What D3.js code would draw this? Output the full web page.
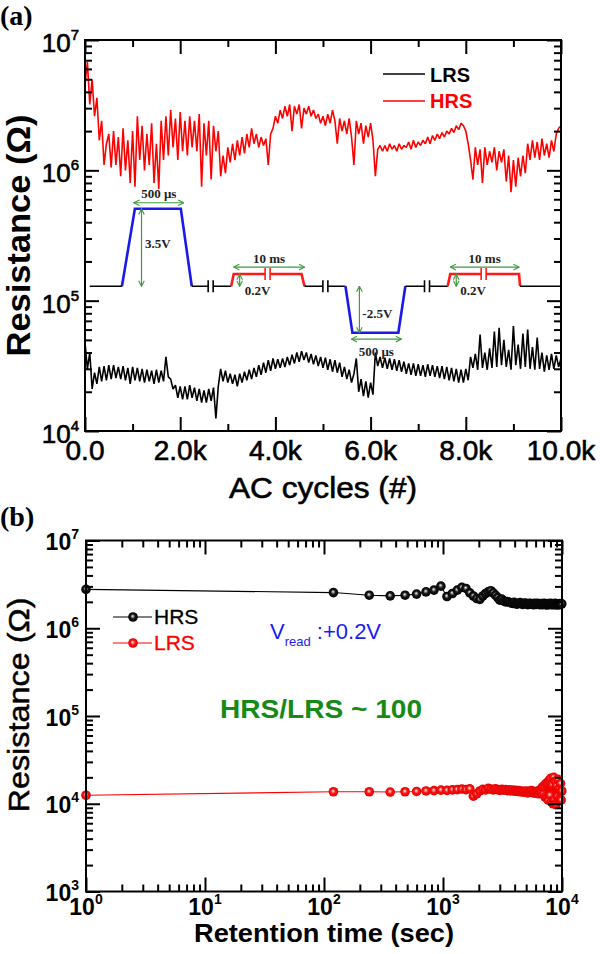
<!DOCTYPE html>
<html><head><meta charset="utf-8">
<script src="https://cdn.jsdelivr.net/npm/d3@7"></script>
<style>body{margin:0;background:#fff} svg{display:block}</style>
</head><body>
<svg id="c" width="600" height="954"></svg>
<script>
// ---------------- DATA ----------------
// Panel (a): AC cycling, one reading every 50 cycles (0 .. 10000)
const acCycleStep = 50;
// HRS, in MΩ
const hrsA = [
4.5,6.8,3.2,5.0,2.6,3.6,1.7,2.4,1.1,1.6,
1.9,1.05,2.0,1.1,1.8,0.9,2.1,1.0,1.7,0.8,
2.0,0.75,2.6,1.2,2.2,1.0,1.9,1.1,2.3,0.8,
1.6,0.72,2.4,1.2,2.6,1.3,2.9,1.5,2.5,1.2,
2.8,1.4,2.4,1.3,2.6,1.5,2.4,1.4,2.7,0.75,
2.3,1.3,2.4,0.85,2.2,1.4,2.0,0.9,1.3,0.95,
1.5,1.15,1.6,1.2,1.7,1.3,1.8,1.35,1.9,1.5,
2.1,1.6,1.9,1.5,1.8,1.55,1.75,1.1,1.9,2.1,
2.6,2.3,2.9,2.5,3.1,2.6,3.2,2.0,3.1,2.7,
3.2,2.1,3.0,2.7,3.1,2.6,2.9,2.5,2.7,2.3,
2.6,2.2,2.7,2.3,2.9,2.4,1.6,2.5,2.0,2.4,
1.9,2.5,1.8,1.1,2.4,1.9,2.3,1.6,2.2,1.8,
2.3,1.7,0.9,1.45,1.55,1.4,1.55,1.4,1.6,1.45,
1.55,1.4,1.6,1.45,1.55,1.5,1.65,1.45,1.7,1.5,
1.65,1.55,1.7,1.6,1.8,1.6,1.85,1.7,1.9,1.75,
1.95,1.8,2.0,1.9,2.1,1.95,2.2,2.05,2.3,2.2,
2.0,1.6,1.2,0.85,1.5,1.1,1.45,0.8,1.5,1.1,
1.4,1.15,1.5,1.0,1.4,1.15,1.45,0.82,1.3,0.68,
1.2,0.75,1.25,0.9,1.3,0.95,1.6,1.2,1.7,1.25,
1.65,1.2,1.75,1.3,1.6,1.25,1.7,1.4,1.9,2.1,
2.2];
// LRS, in 10^4 Ω
const lrsA = [
4.8,3.0,4.0,2.1,2.8,2.3,3.1,2.4,3.15,2.45,
3.2,2.5,3.2,2.55,3.1,2.5,3.15,2.45,3.05,2.3,
3.1,2.45,3.05,2.4,3.0,2.35,2.95,2.4,2.9,2.3,
2.95,2.35,2.9,2.4,3.7,2.6,2.5,2.1,2.25,1.8,
2.2,1.75,2.2,1.75,2.25,1.8,2.15,1.7,2.1,1.65,
2.05,1.65,2.1,1.7,2.15,1.25,2.2,3.0,2.4,2.9,
2.35,2.75,2.3,2.7,2.2,2.75,2.35,2.85,2.45,2.95,
2.5,3.05,2.6,3.2,2.7,3.35,2.8,3.5,2.9,3.6,
3.0,3.55,3.05,3.6,3.1,3.7,3.2,3.85,3.3,4.0,
3.4,4.1,3.5,4.0,3.35,3.9,3.25,3.8,3.15,3.7,
3.05,3.65,2.95,3.55,2.85,3.5,2.8,3.35,2.6,3.1,
2.5,2.95,2.35,2.75,3.6,2.0,2.5,1.85,2.4,1.8,
2.35,1.9,4.0,3.15,3.7,3.05,3.65,3.0,3.6,2.95,
3.55,2.9,3.5,2.85,3.4,2.75,3.3,2.7,3.3,2.65,
3.25,2.65,3.2,2.6,3.25,2.65,3.2,2.6,3.15,2.55,
3.15,2.5,3.1,2.45,3.05,2.4,3.0,2.35,2.95,2.35,
3.0,2.45,3.7,3.05,3.9,2.95,5.5,3.05,4.0,2.95,
4.3,3.05,5.8,3.1,6.2,3.2,5.0,3.1,4.2,2.95,
6.4,3.2,4.6,3.0,5.6,3.1,6.0,3.0,4.4,2.95,
5.2,3.0,4.0,2.85,3.8,2.95,3.9,3.0,3.8,3.1,
3.6];
const xTickValuesA = [0,2000,4000,6000,8000,10000];
const xTickLabelsA = ["0.0","2.0k","4.0k","6.0k","8.0k","10.0k"];
const yExpA = [4,5,6,7];

// pulse-scheme inset (drawn in panel (a) data units: cycles, Ω)
const pB = 1.29e5, pT = 5.07e5, pR = 1.6e5, pN = 5.67e4;
const pulseSegments = [
 {c:"black", w:1.6, pts:[[100,pB],[776,pB]]},
 {c:"blue",  w:2.6, pts:[[776,pB],[1048,pT],[2013,pT],[2243,pB]]},
 {c:"black", w:1.6, pts:[[2243,pB],[3071,pB]]},
 {c:"red",   w:2.6, pts:[[3071,pB],[3124,pR],[4549,pR],[4612,pB]]},
 {c:"black", w:1.6, pts:[[4612,pB],[5472,pB]]},
 {c:"blue",  w:2.6, pts:[[5472,pB],[5618,pN],[6583,pN],[6730,pB]]},
 {c:"black", w:1.6, pts:[[6730,pB],[7620,pB]]},
 {c:"red",   w:2.6, pts:[[7620,pB],[7673,pR],[9119,pR],[9140,pB]]},
 {c:"black", w:1.6, pts:[[9140,pB],[9990,pB]]}
];
const pulseBreaks = [[2640,pB,"black"],[3836,pR,"red"],[5050,pB,"black"],[7185,pB,"black"],[8375,pR,"red"]];
const pulseArrows = [
 [[1027,5.64e5],[2075,5.64e5]],
 [[1187,5.07e5],[1187,1.29e5]],
 [[3124,1.81e5],[4612,1.81e5]],
 [[3249,1.6e5],[3249,1.29e5]],
 [[5765,1.29e5],[5765,5.67e4]],
 [[5597,5.07e4],[6646,5.07e4]],
 [[7673,1.81e5],[9119,1.81e5]],
 [[7799,1.6e5],[7799,1.29e5]]
];
const pulseTexts = [
 {t:"500 μs", x:1550, y:5.64e5, dy:-5, a:"middle"},
 {t:"3.5V",   x:1258, y:2.77e5, dy:5,  a:"start"},
 {t:"10 ms",  x:3868, y:1.81e5, dy:-4, a:"middle"},
 {t:"0.2V",   x:3354, y:1.29e5, dy:9,  a:"start"},
 {t:"-2.5V",  x:5827, y:8.07e4, dy:5,  a:"start"},
 {t:"500 μs", x:6120, y:5.07e4, dy:17, a:"middle"},
 {t:"10 ms",  x:8396, y:1.81e5, dy:-4, a:"middle"},
 {t:"0.2V",   x:7881, y:1.29e5, dy:9,  a:"start"}
];

// Panel (b): retention
const retentionTime = [1,120,240,360,480,600,720,840,960,1080,1200,1320,1440,1560,1680,1800,1920,2040,2160,2280,2400,2520,2640,2760,2880,3000,3120,3240,3360,3480,3600,3720,3840,3960,4080,4200,4320,4440,4560,4680,4800,4920,5040,5160,5280,5400,5520,5640,5760,5880,6000,6120,6240,6360,6480,6600,6720,6840,6960,7080,7200,7320,7440,7560,7680,7800,7920,8040,8160,8280,8400,8520,8640,8760,8880,9000,9120,9240,9360,9480,9600,9720,9840,9960];
// HRS in MΩ
const hrsB = [2.77,
2.55,2.38,2.34,2.38,2.45,2.60,2.72,3.02,2.30,2.49,
2.72,2.92,2.84,2.53,2.33,2.18,2.13,2.33,2.49,2.60,
2.68,2.53,2.38,2.24,2.09,2.15,2.05,2.0,2.02,1.98,
1.95,1.92,1.97,1.90,1.88,1.93,1.96,1.90,1.87,1.92,
1.94,1.89,1.86,1.91,1.93,1.88,1.90,1.85,1.92,1.89,
1.87,1.93,1.90,1.86,1.88,1.91,1.85,1.89,1.92,1.87,
1.90,1.84,1.88,1.91,1.86,1.89,1.93,1.87,1.85,1.90,
1.88,1.86,1.92,1.87,1.89,1.84,1.90,1.88,1.86,1.91,
1.87,1.89,1.90];
// LRS in 10^4 Ω
const lrsB = [1.25,
1.37,1.37,1.36,1.37,1.38,1.40,1.41,1.43,1.42,1.44,
1.45,1.47,1.45,1.48,1.22,1.30,1.40,1.46,1.44,1.50,
1.47,1.44,1.48,1.45,1.42,1.46,1.43,1.45,1.41,1.44,
1.40,1.43,1.39,1.42,1.38,1.41,1.37,1.40,1.36,1.39,
1.35,1.40,1.33,1.38,1.36,1.41,1.34,1.39,1.32,1.37,
1.35,1.40,1.30,1.38,1.45,1.33,1.55,1.28,1.60,1.20,
1.70,1.15,1.75,1.10,1.85,1.25,1.95,1.05,1.65,1.00,
2.00,1.12,1.80,0.98,1.60,1.20,1.90,1.08,1.50,1.15,
1.70,1.10,1.40];
const xExpB = [0,1,2,3,4];
const yExpB = [3,4,5,6,7];

// ---------------- DRAW ----------------
const SANS = "'Liberation Sans', Arial, sans-serif";
const SERIF = "'Liberation Serif', 'Times New Roman', serif";
const GREEN = "#3d9a3d";
const svg = d3.select("#c");
const defs = svg.append("defs");
defs.append("marker").attr("id","ga").attr("viewBox","0 0 10 10").attr("refX",9).attr("refY",5)
  .attr("markerWidth",7).attr("markerHeight",7).attr("markerUnits","userSpaceOnUse")
  .attr("orient","auto-start-reverse")
  .append("path").attr("d","M1,1 L9,5 L1,9").attr("fill","none").attr("stroke",GREEN).attr("stroke-width",1.6);
function grad(id, stops){
  const g = defs.append("radialGradient").attr("id",id).attr("cx","50%").attr("cy","50%").attr("r","50%").attr("fx","45%").attr("fy","40%");
  stops.forEach(s=>g.append("stop").attr("offset",s[0]).attr("stop-color",s[1]));
}
grad("gk",[["0%","#f4f4f4"],["20%","#9a9a9a"],["48%","#1a1a1a"],["100%","#000"]]);
grad("gr",[["0%","#fff0f0"],["20%","#ff9a9a"],["48%","#ff1414"],["100%","#e00000"]]);
defs.append("clipPath").attr("id","clipA").append("rect").attr("x",85).attr("y",40).attr("width",476).attr("height",391);

// ----- panel (a)
const xA = d3.scaleLinear().domain([0,10000]).range([85,561]);
const yA = d3.scaleLog().domain([1e4,1e7]).range([431,40]);
const gA = svg.append("g");

const lineA = d3.line().x((d,i)=>xA(i*acCycleStep)).y(d=>yA(d));
gA.append("path").attr("clip-path","url(#clipA)").attr("d",lineA(lrsA.map(v=>v*1e4)))
  .attr("fill","none").attr("stroke","#000").attr("stroke-width",1.6).attr("stroke-linejoin","bevel");
gA.append("path").attr("clip-path","url(#clipA)").attr("d",lineA(hrsA.map(v=>v*1e6)))
  .attr("fill","none").attr("stroke","#ff0000").attr("stroke-width",1.6).attr("stroke-linejoin","bevel");

// pulse inset
const pl = d3.line().x(d=>xA(d[0])).y(d=>yA(d[1]));
const colMap = {black:"#000", blue:"#1a1ae6", red:"#ff1a1a"};
pulseSegments.forEach(s=>{
  gA.append("path").attr("d",pl(s.pts)).attr("fill","none").attr("stroke",colMap[s.c]).attr("stroke-width",s.w).attr("stroke-linejoin","miter");
});
pulseBreaks.forEach(b=>{
  const px = xA(b[0]), py = yA(b[1]);
  gA.append("rect").attr("x",px-2.5).attr("y",py-2).attr("width",5).attr("height",4).attr("fill","#fff");
  [-2.5,2.5].forEach(o=>gA.append("line").attr("x1",px+o).attr("x2",px+o).attr("y1",py-6).attr("y2",py+6)
     .attr("stroke",colMap[b[2]]).attr("stroke-width",1.6));
});
pulseArrows.forEach(a=>{
  gA.append("line").attr("x1",xA(a[0][0])).attr("y1",yA(a[0][1])).attr("x2",xA(a[1][0])).attr("y2",yA(a[1][1]))
    .attr("stroke",GREEN).attr("stroke-width",1.2).attr("marker-start","url(#ga)").attr("marker-end","url(#ga)");
});
pulseTexts.forEach(t=>{
  gA.append("text").attr("x",xA(t.x)).attr("y",yA(t.y)).attr("dy",t.dy).attr("text-anchor",t.a)
    .attr("font-family",SERIF).attr("font-weight","bold").attr("font-size",13).attr("fill","#222").text(t.t);
});

// frame & ticks
function axesTicks(g, xs, ys, xMajor, xMinor, yMajor, yMinor){
  const [x0,x1] = xs.range(), [y0,y1] = ys.range(); // y0 bottom, y1 top
  const mk = (axisFn, scale, vals, len, tr) => g.append("g").attr("transform",tr)
     .call(axisFn(scale).tickValues(vals).tickSize(len).tickFormat(""))
     .call(s=>s.select(".domain").remove())
     .call(s=>s.selectAll("line").attr("stroke","#000").attr("stroke-width",2));
  mk(d3.axisBottom, xs, xMajor, -14, `translate(0,${y0})`);
  mk(d3.axisBottom, xs, xMinor, -7, `translate(0,${y0})`);
  mk(d3.axisTop, xs, xMajor, -14, `translate(0,${y1})`);
  mk(d3.axisTop, xs, xMinor, -7, `translate(0,${y1})`);
  mk(d3.axisLeft, ys, yMajor, -14, `translate(${x0},0)`);
  mk(d3.axisLeft, ys, yMinor, -7, `translate(${x0},0)`);
  mk(d3.axisRight, ys, yMajor, -14, `translate(${x1},0)`);
  mk(d3.axisRight, ys, yMinor, -7, `translate(${x1},0)`);
  g.append("rect").attr("x",x0).attr("y",y1).attr("width",x1-x0).attr("height",y0-y1)
    .attr("fill","none").attr("stroke","#000").attr("stroke-width",2);
}
const isDecade = v => Math.abs(Math.log10(v) - Math.round(Math.log10(v))) < 1e-9;
const yAll = yA.ticks();
axesTicks(gA, xA, yA, xTickValuesA, [1000,3000,5000,7000,9000],
  yAll.filter(isDecade), yAll.filter(v=>!isDecade(v)));

// heavier "regular" text helper
const heavy = (sel, col, w) => sel.attr("stroke",col||"#000").attr("stroke-width",w||0.6);

// tick labels (a)
xTickValuesA.forEach((v,i)=>{
  heavy(gA.append("text").attr("x",xA(v)).attr("y",460).attr("text-anchor","middle")
    .attr("font-family",SANS).attr("font-size",28).text(xTickLabelsA[i]));
});
yExpA.forEach(e=>{
  const t = heavy(gA.append("text").attr("x",79).attr("y",yA(Math.pow(10,e))+12).attr("text-anchor","end")
    .attr("font-family",SANS).attr("font-size",26));
  t.append("tspan").text("10");
  t.append("tspan").attr("font-size",15).attr("dy",-12).text(e);
});
heavy(gA.append("text").attr("x",323).attr("y",498).attr("text-anchor","middle").attr("font-family",SANS)
  .attr("font-size",30).attr("textLength",188).attr("lengthAdjust","spacingAndGlyphs").text("AC cycles (#)"));
gA.append("text").attr("transform","translate(30,235.5) rotate(-90)").attr("text-anchor","middle")
  .attr("font-family",SANS).attr("font-weight","bold").attr("font-size",34)
  .attr("textLength",242).attr("lengthAdjust","spacingAndGlyphs").text("Resistance (Ω)");
gA.append("text").attr("x",0).attr("y",25).attr("font-family",SERIF).attr("font-weight","bold")
  .attr("font-size",28).text("(a)");

// legend (a)
[["LRS","#000",74,82],["HRS","#ff0000",101,108]].forEach(l=>{
  gA.append("line").attr("x1",383).attr("x2",425).attr("y1",l[2]).attr("y2",l[2]).attr("stroke",l[1]).attr("stroke-width",1.5);
  gA.append("text").attr("x",430).attr("y",l[3]).attr("font-family",SANS).attr("font-weight","bold")
    .attr("font-size",20).attr("fill",l[1]).text(l[0]);
});

// ----- panel (b)
const xB = d3.scaleLog().domain([1,1e4]).range([86,562]);
const yB = d3.scaleLog().domain([1e3,1e7]).range([891.5,540.5]);
const gB = svg.append("g");
const hrsPts = retentionTime.map((t,i)=>[t,hrsB[i]*1e6]).filter(d=>!isNaN(d[1]));
const lrsPts = retentionTime.map((t,i)=>[t,lrsB[i]*1e4]).filter(d=>!isNaN(d[1]));
const lineB = d3.line().x(d=>xB(d[0])).y(d=>yB(d[1]));
gB.append("path").attr("d",lineB(hrsPts)).attr("fill","none").attr("stroke","#000").attr("stroke-width",1.1);
gB.append("path").attr("d",lineB(lrsPts)).attr("fill","none").attr("stroke","#ff0000").attr("stroke-width",1.1);
gB.selectAll("circle.h").data(hrsPts).join("circle").attr("class","h")
  .attr("cx",d=>xB(d[0])).attr("cy",d=>yB(d[1])).attr("r",4.8).attr("fill","url(#gk)");
gB.selectAll("circle.l").data(lrsPts).join("circle").attr("class","l")
  .attr("cx",d=>xB(d[0])).attr("cy",d=>yB(d[1])).attr("r",4.8).attr("fill","url(#gr)");

const xAllB = xB.ticks(), yAllB = yB.ticks();
axesTicks(gB, xB, yB, xAllB.filter(isDecade), xAllB.filter(v=>!isDecade(v)),
  yAllB.filter(isDecade), yAllB.filter(v=>!isDecade(v)));

xExpB.forEach(e=>{
  const t = gB.append("text").attr("x",xB(Math.pow(10,e))).attr("y",915).attr("text-anchor","middle")
    .attr("font-family",SANS).attr("font-weight","bold").attr("font-size",23);
  t.append("tspan").text("10");
  t.append("tspan").attr("font-size",14).attr("dy",-11).text(e);
});
yExpB.forEach(e=>{
  const t = gB.append("text").attr("x",79).attr("y",yB(Math.pow(10,e))+9.5).attr("text-anchor","end")
    .attr("font-family",SANS).attr("font-weight","bold").attr("font-size",23);
  t.append("tspan").text("10");
  t.append("tspan").attr("font-size",14).attr("dy",-11).text(e);
});
gB.append("text").attr("x",324).attr("y",942).attr("text-anchor","middle").attr("font-family",SANS)
  .attr("font-weight","bold").attr("font-size",25).attr("textLength",260).attr("lengthAdjust","spacingAndGlyphs")
  .text("Retention time (sec)");
heavy(gB.append("text").attr("transform","translate(29,705) rotate(-90)").attr("text-anchor","middle")
  .attr("font-family",SANS).attr("font-size",30).attr("textLength",215).attr("lengthAdjust","spacingAndGlyphs")
  .text("Resistance (Ω)"), "#000", 0.5);
gB.append("text").attr("x",0).attr("y",526).attr("font-family",SERIF).attr("font-weight","bold")
  .attr("font-size",28).text("(b)");

// legend (b)
[["HRS","#000","url(#gk)",617,624],["LRS","#ff0000","url(#gr)",643,650]].forEach(l=>{
  gB.append("line").attr("x1",113).attr("x2",152).attr("y1",l[3]).attr("y2",l[3]).attr("stroke",l[1]).attr("stroke-width",1.2);
  gB.append("circle").attr("cx",133).attr("cy",l[3]).attr("r",4.8).attr("fill",l[2]);
  heavy(gB.append("text").attr("x",154).attr("y",l[4]).attr("font-family",SANS).attr("font-size",21).attr("fill",l[1]).text(l[0]), l[1], 0.3);
});
const vr = gB.append("text").attr("x",270).attr("y",639).attr("font-family",SANS).attr("fill","#1c1cf0").attr("font-size",22);
vr.append("tspan").text("V");
vr.append("tspan").attr("font-size",13).attr("dy",7).text("read");
vr.append("tspan").attr("dy",-7).text(" :+0.2V");
gB.append("text").attr("x",220).attr("y",718).attr("font-family",SANS).attr("font-weight","bold")
  .attr("font-size",26).attr("fill","#168a16").attr("textLength",202).attr("lengthAdjust","spacingAndGlyphs")
  .text("HRS/LRS ~ 100");
</script>
</body></html>
